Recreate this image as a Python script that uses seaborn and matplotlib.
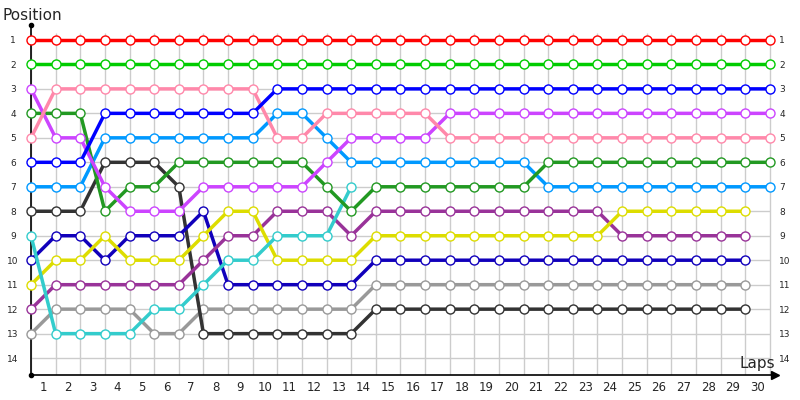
import numpy as np
import pandas as pd
import seaborn as sns
import matplotlib.pyplot as plt

laps = list(range(31))

# position per lap (None = not running that lap)
red = [1, 1, 1, 1, 1, 1, 1, 1, 1, 1, 1, 1, 1, 1, 1, 1, 1, 1, 1, 1, 1, 1, 1, 1, 1, 1, 1, 1, 1, 1, 1]
green = [2, 2, 2, 2, 2, 2, 2, 2, 2, 2, 2, 2, 2, 2, 2, 2, 2, 2, 2, 2, 2, 2, 2, 2, 2, 2, 2, 2, 2, 2, 2]
blue = [6, 6, 6, 4, 4, 4, 4, 4, 4, 4, 3, 3, 3, 3, 3, 3, 3, 3, 3, 3, 3, 3, 3, 3, 3, 3, 3, 3, 3, 3, 3]
magenta = [3, 5, 5, 7, 8, 8, 8, 7, 7, 7, 7, 7, 6, 5, 5, 5, 5, 4, 4, 4, 4, 4, 4, 4, 4, 4, 4, 4, 4, 4, 4]
pink = [5, 3, 3, 3, 3, 3, 3, 3, 3, 3, 5, 5, 4, 4, 4, 4, 4, 5, 5, 5, 5, 5, 5, 5, 5, 5, 5, 5, 5, 5, 5]
dark_green = [4, 4, 4, 8, 7, 7, 6, 6, 6, 6, 6, 6, 7, 8, 7, 7, 7, 7, 7, 7, 7, 6, 6, 6, 6, 6, 6, 6, 6, 6, 6]
sky = [7, 7, 7, 5, 5, 5, 5, 5, 5, 5, 4, 4, 5, 6, 6, 6, 6, 6, 6, 6, 6, 7, 7, 7, 7, 7, 7, 7, 7, 7, 7]
yellow = [11, 10, 10, 9, 10, 10, 10, 9, 8, 8, 10, 10, 10, 10, 9, 9, 9, 9, 9, 9, 9, 9, 9, 9, 8, 8, 8, 8, 8, 8, None]
purple = [12, 11, 11, 11, 11, 11, 11, 10, 9, 9, 8, 8, 8, 9, 8, 8, 8, 8, 8, 8, 8, 8, 8, 8, 9, 9, 9, 9, 9, 9, None]
navy = [10, 9, 9, 10, 9, 9, 9, 8, 11, 11, 11, 11, 11, 11, 10, 10, 10, 10, 10, 10, 10, 10, 10, 10, 10, 10, 10, 10, 10, 10, None]
gray = [13, 12, 12, 12, 12, 13, 13, 12, 12, 12, 12, 12, 12, 12, 11, 11, 11, 11, 11, 11, 11, 11, 11, 11, 11, 11, 11, 11, 11, 11, None]
black = [8, 8, 8, 6, 6, 6, 7, 13, 13, 13, 13, 13, 13, 13, 12, 12, 12, 12, 12, 12, 12, 12, 12, 12, 12, 12, 12, 12, 12, 12, None]
cyan = [9, 13, 13, 13, 13, 12, 12, 11, 10, 10, 9, 9, 9, 7, None, None, None, None, None, None, None, None, None, None, None, None, None, None, None, None, None]

positions = list(range(1, 15))

series = [
    (gray, '#999999'), (black, '#333333'), (navy, '#1100bb'), (purple, '#993399'),
    (yellow, '#dddd00'), (cyan, '#33cccc'), (sky, '#0099ff'), (dark_green, '#229922'),
    (magenta, '#cc44ff'), (pink, '#ff88aa'), (blue, '#0000ff'), (green, '#00cc00'),
    (red, '#ff0000'),
]

sns.set_style('white')
plt.rcParams['font.family'] = ['DejaVu Sans']

fig = plt.figure(figsize=(8, 4), dpi=100)
ax = fig.add_axes([31 / 800, 25 / 400, 744 / 800, 350 / 400])

# grid, only over the lap/position range
ax.hlines(positions, 0, laps[-1], color='#cccccc', lw=1, zorder=0)
ax.vlines(laps, 0.7, 14.7, color='#cccccc', lw=1, zorder=0)

for vals, col in series:
    df = pd.DataFrame({'lap': laps, 'pos': vals}).dropna()
    sns.lineplot(data=df, x='lap', y='pos', ax=ax, color=col, lw=2.5,
                 marker='o', markersize=6.5, markerfacecolor='white',
                 markeredgecolor=col, markeredgewidth=1.0, clip_on=False,
                 sort=False, zorder=3)

ax.set_xlim(0, 744 / 24.63)
ax.set_ylim(14.69, 0.39)

ax.set_xticks([l - 0.5 for l in laps[1:]])
ax.set_xticklabels([str(l) for l in laps[1:]], fontsize=8.5)
ax.set_yticks(positions)
ax.set_yticklabels([str(p) for p in positions], fontsize=6.5, ha='center')
ax.tick_params(axis='x', length=0, pad=4)
ax.tick_params(axis='y', length=0, pad=13)

sec = ax.secondary_yaxis('right')
sec.set_yticks(positions)
sec.set_yticklabels([str(p) for p in positions], fontsize=6.5)
sec.tick_params(length=0, pad=3)
sec.spines['right'].set_visible(False)

ax.set_xlabel('')
ax.set_ylabel('')
for s in ['top', 'right']:
    ax.spines[s].set_visible(False)
for s in ['left', 'bottom']:
    ax.spines[s].set_color('black')
    ax.spines[s].set_linewidth(1.2)

ax.plot([0], [1], 'o', color='black', ms=3, transform=ax.transAxes, clip_on=False)
ax.plot([0], [0], 'o', color='black', ms=3, transform=ax.transAxes, clip_on=False)
ax.plot([1], [0], '>', color='black', ms=6, transform=ax.transAxes, clip_on=False)

fig.text(3 / 800, 1 - 15 / 400, 'Position', fontsize=11, va='center', ha='left')
ax.text(1.0, 0.032, 'Laps', fontsize=11, va='center', ha='right', transform=ax.transAxes)

fig.savefig('out.png', dpi=100)
